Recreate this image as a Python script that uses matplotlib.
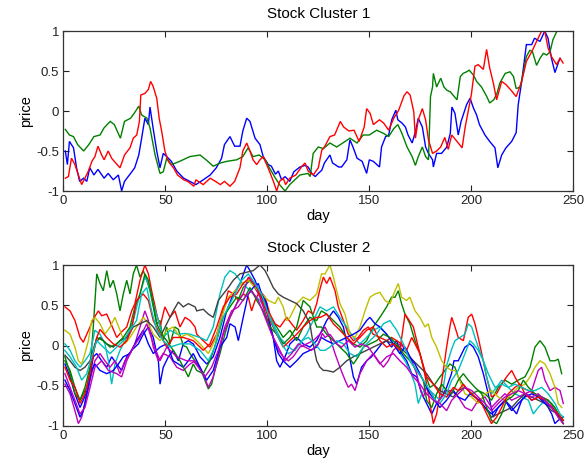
import matplotlib
matplotlib.use("Agg")
import matplotlib.pyplot as plt
import numpy as np

# ---------------- Cluster 1 data (day, price) ----------------
c1_blue = [(1,-0.5),(2,-0.67),(3,-0.38),(5,-0.46),(6.5,-0.71),(8,-0.88),(10,-0.84),(11.5,-0.88),(13,-0.71),(15,-0.8),
           (17,-0.73),(20,-0.84),(22,-0.78),(24.5,-0.86),(27,-0.8),(28.6,-1.0),(30,-0.88),(33,-0.78),(35,-0.71),(37,-0.55),
           (38.4,-0.34),(40,-0.09),(41.7,-0.17),(42.5,0.05),(44,-0.21),(45.8,-0.5),(47.4,-0.71),(49,-0.53),(50.7,-0.57),(53,-0.63),
           (55.6,-0.75),(59,-0.84),(62,-0.88),(65,-0.92),(68.6,-0.86),(72,-0.8),(75,-0.71),(77.6,-0.59),(79,-0.42),(81.7,-0.32),
           (84,-0.44),(86.6,-0.44),(88,-0.25),(89.9,-0.09),(91.5,-0.13),(94,-0.34),(96.4,-0.42),(98,-0.57),(100.5,-0.67),(102,-0.69),
           (104,-0.79),(105.4,-0.75),(107,-0.86),(108.7,-0.82),(111,-0.88),(113,-0.76),(116,-0.7),(118.5,-0.68),(120,-0.7),(121.8,-0.78),
           (123.5,-0.82),(125,-0.78),(126.7,-0.74),(128,-0.65),(130.7,-0.55),(132,-0.65),(135,-0.7),(136.4,-0.7),(139,-0.61),(140.5,-0.36),
           (142,-0.45),(144,-0.59),(146.5,-0.63),(148.7,-0.78),(150,-0.61),(152,-0.63),(155,-0.7),(156,-0.45),(158,-0.32),(159.5,-0.3),
           (161,-0.11),(163,0.01),(164,-0.11),(166,-0.15),(167.7,-0.2),(169,-0.3),(171,-0.4),(172.6,-0.26),(174,-0.09),(176,-0.2),
           (177.6,-0.45),(179,-0.53),(181,-0.61),(181.4,-0.7),(183,-0.53),(185.4,-0.53),(188,-0.45),(189.7,-0.28),(190.5,0.05),(192,-0.03),
           (193.6,-0.3),(195,-0.13),(197.7,0.08),(199.4,0.16),(201,0.04),(202.6,-0.05),(204,-0.17),(206.7,-0.3),(209,-0.38),(211.6,-0.46),
           (213,-0.71),(214.9,-0.55),(217,-0.46),(219.8,-0.38),(222,-0.27),(223,0.08),(224.7,0.37),(227,0.83),(229.6,0.83),(231,0.91),
           (233.7,0.87),(236,1.0),(237.6,0.91),(239.3,0.66),(241,0.48),(242.6,0.6),(243.5,0.66)]

c1_green = [(1,-0.23),(3,-0.3),(5,-0.32),(7,-0.42),(10,-0.5),(12.5,-0.42),(15,-0.32),(18,-0.3),(20,-0.21),(23,-0.13),
            (25,-0.17),(28,-0.34),(30,-0.13),(33,-0.09),(35,-0.02),(37,0.06),(38.4,-0.05),(41,-0.09),(42.5,-0.21),(45,-0.55),
            (47.4,-0.78),(49,-0.76),(50.7,-0.59),(53,-0.67),(57,-0.63),(62,-0.57),(67,-0.55),(70,-0.61),(73.5,-0.69),(77,-0.65),
            (80,-0.63),(85,-0.61),(88,-0.57),(90.6,-0.46),(93,-0.57),(96,-0.55),(99,-0.61),(101,-0.71),(104,-0.84),(106,-0.92),
            (108.7,-1.0),(111,-0.92),(116,-0.8),(120,-0.78),(121,-0.82),(122.5,-0.53),(125,-0.45),(127.5,-0.47),(130.7,-0.4),(134,-0.45),
            (137,-0.4),(140.5,-0.34),(144,-0.4),(147,-0.3),(150,-0.3),(153.6,-0.24),(157,-0.28),(159.5,-0.32),(162,-0.22),(164,-0.17),
            (166,-0.28),(168.5,-0.45),(171,-0.57),(172.6,-0.68),(174,-0.57),(176,-0.45),(177.6,-0.57),(179,-0.61),(180,0.18),(181,0.3),
            (181.4,0.47),(183,0.3),(185,0.41),(186.6,0.3),(188,0.26),(189.7,0.24),(191,0.2),(193,0.14),(194.6,0.43),(196,0.47),
            (197.7,0.49),(199,0.51),(201,0.45),(202.6,0.37),(205,0.3),(207.6,0.18),(209,0.1),(211,0.14),(212.6,0.22),(214,0.35),
            (216.6,0.47),(219,0.49),(220.7,0.43),(222,0.28),(224,0.3),(225.4,0.47),(227,0.68),(228.7,0.76),(230,0.74),(232,0.57),
            (233.7,0.66),(235.3,0.72),(237,0.7),(238.6,0.74),(240,0.89),(242,1.0),(243.6,1.0)]

c1_red = [(1,-0.84),(2.5,-0.82),(4,-0.59),(5.7,-0.67),(7.4,-0.8),(9,-0.92),(10.6,-0.84),(12.3,-0.75),(14,-0.63),(15.5,-0.57),
          (17,-0.44),(18.8,-0.55),(20,-0.61),(22,-0.5),(23.7,-0.59),(25,-0.63),(27.8,-0.71),(30,-0.55),(32.7,-0.46),(34.3,-0.34),
          (36,-0.3),(37.3,-0.13),(38,0.2),(40,0.22),(41.7,0.27),(42.8,0.37),(44,0.31),(45.8,0.16),(47,-0.09),(48.2,-0.25),
          (49.8,-0.5),(51.5,-0.63),(54,-0.71),(56,-0.8),(59,-0.86),(61,-0.88),(64,-0.94),(65,-0.86),(68.6,-0.92),(72,-0.84),
          (74.6,-0.88),(77,-0.92),(79,-0.88),(81.7,-0.94),(84,-0.88),(86.6,-0.71),(88,-0.5),(89.9,-0.4),(91.5,-0.5),(93,-0.61),
          (94.8,-0.67),(96.4,-0.61),(98,-0.57),(99.7,-0.67),(101,-0.75),(103,-0.88),(104.6,-1.0),(106,-0.88),(107.8,-0.84),(109,-0.92),
          (111,-0.84),(114,-0.8),(117,-0.69),(118.5,-0.65),(120,-0.75),(122.5,-0.8),(125,-0.71),(126.7,-0.49),(128,-0.45),(130.7,-0.32),
          (133,-0.3),(135.8,-0.13),(137.4,-0.2),(140,-0.25),(142.5,-0.24),(145,-0.38),(147.5,-0.2),(148.7,0.03),(150.4,-0.03),(152,-0.17),
          (155,-0.11),(157,-0.15),(159.5,-0.24),(162,-0.09),(164.4,0.01),(167,0.19),(168.5,0.24),(170,0.2),(171.8,-0.01),(172.6,-0.34),
          (174,-0.11),(176,0.03),(177.6,-0.11),(179,-0.36),(181,-0.53),(183,-0.5),(185,-0.45),(187,-0.33),(188.7,-0.48),(190.4,-0.3),
          (193,-0.38),(195.5,-0.46),(197,-0.2),(198.5,0.0),(200,0.2),(201.8,0.56),(203.4,0.58),(205.9,0.52),(207.5,0.77),(209,0.54),
          (210.8,0.35),(212.4,0.14),(214.9,0.37),(217,0.33),(219.8,0.25),(222,0.18),(224.7,0.37),(227,0.62),(229.6,0.74),(232,0.87),
          (234.5,1.0),(236,1.0),(237.6,0.79),(239.3,0.68),(241.8,0.58),(243.5,0.66),(245,0.6)]

# ---------------- Cluster 2 data (day, price) ----------------
c2_blue1 = [(0.8,-0.23),(3.3,-0.39),(5.7,-0.6),(8.2,-0.77),(9.8,-0.68),(12.3,-0.52),(14.7,-0.14),(16.4,-0.1),(18.8,-0.19),(21.3,-0.27),
            (23.7,-0.14),(26.2,-0.23),(28.6,-0.31),(31.1,-0.14),(33.5,-0.06),(36.8,0.02),(39.2,0.14),(41.7,0.23),(44.1,0.1),(46.6,-0.19),
            (47.4,-0.48),(49,-0.27),(51.5,-0.14),(53.9,-0.06),(56.4,-0.19),(58.8,0.02),(61.3,0.06),(63.7,0.02),(65.4,-0.06),(67,-0.14),
            (70.3,-0.23),(73.5,-0.14),(76.8,0.1),(80.1,0.43),(83.3,0.64),(86.6,0.77),(89.9,1.0),(91.5,0.93),(94,0.81),(96.4,0.64),
            (98.9,0.52),(100.5,0.35),(102.9,0.1),(104.6,-0.19),(106.2,-0.27),(108.7,-0.14),(111.1,0.02),(114.4,0.1),(117.6,0.02),(120.9,-0.02),
            (124.2,0.06),(127,0.2),(129.1,0.31),(132.4,0.43),(134.8,0.35),(137.3,0.23),(139.7,-0.06),(142.2,-0.39),(143.8,-0.48),(146.2,-0.27),
            (148.7,-0.19),(151.1,-0.14),(153.6,-0.06),(156,0.02),(158.5,0.06),(160.9,-0.02),(163.4,0.06),(165.8,-0.1),(168.3,-0.19),(170.8,-0.35),
            (173.2,-0.39),(175.7,-0.6),(178.1,-0.72),(180.6,-0.85),(183,-0.72),(185.5,-0.64),(187.9,-0.52),(190.3,-0.35),(191.5,-0.19),(193.6,-0.19),
            (196.9,-0.02),(199.3,0.02),(201,-0.02),(203.4,-0.14),(205.9,-0.35),(208.3,-0.6),(210.8,-0.89),(213.2,-0.77),(216.5,-0.68),(219.8,-0.77),
            (222.2,-0.85),(224.7,-0.68),(227.1,-0.6),(229.6,-0.68),(232.8,-0.64),(235.3,-0.68),(237.7,-0.77),(239.4,-0.85),(241,-0.97),(242.6,-0.93),
            (245.1,-0.89)]

c2_green1 = [(0.8,-0.19),(3.3,-0.31),(5.7,-0.52),(8.2,-0.68),(9.8,-0.6),(11.5,-0.52),(13.1,-0.31),(14.7,0.23),(16.4,0.89),(18,0.77),
             (19.6,0.68),(21.3,0.93),(22.9,0.72),(24.5,0.81),(26.2,0.64),(27.8,0.43),(29.4,0.64),(31.1,0.81),(32.7,0.64),(34.3,0.89),
             (35.9,1.0),(37.6,0.85),(39.2,0.93),(40.9,0.81),(42.5,0.68),(44.1,0.48),(45.8,0.27),(47.4,0.31),(49,0.06),(50.7,0.23),
             (52.3,0.02),(54.7,0.23),(56.4,0.2),(58.8,0.0),(60.5,-0.02),(62.1,-0.1),(64.5,-0.19),(67,-0.27),(69.4,-0.43),(71.1,-0.54),
             (72.7,-0.48),(74.3,-0.31),(76.8,-0.1),(79.2,0.14),(81.7,0.35),(85,0.52),(88.2,0.72),(91.5,0.81),(94.8,0.68),(98,0.6),
             (101.3,0.35),(104.6,0.23),(107.8,0.1),(111.1,0.19),(114.4,0.06),(117.6,0.23),(120.9,0.35),(124.2,0.31),(126.5,0.43),(129.1,0.39),
             (132.4,0.31),(135.6,0.23),(138.9,0.1),(142.2,0.02),(145.4,-0.02),(148.7,0.06),(151.9,0.23),(155.2,0.35),(158.5,0.48),(160.9,0.6),
             (162.6,0.6),(164.2,0.68),(165.8,0.52),(167.5,0.39),(169.9,0.27),(172.4,0.06),(174.8,-0.1),(177.3,-0.35),(179.7,-0.52),(182.2,-0.48),
             (184.6,-0.39),(187.1,-0.31),(189.5,-0.23),(192,-0.27),(193.6,-0.39),(196.9,-0.52),(200.2,-0.6),(203.4,-0.56),(206.7,-0.6),(209.9,-0.68),
             (213.2,-0.52),(216.5,-0.43),(219.8,-0.48),(223,-0.43),(226.3,-0.39),(228.8,-0.27),(231.2,-0.02),(233.7,0.06),(236.1,-0.02),(238.6,-0.19),
             (241,-0.19),(242.6,-0.17),(244.3,-0.35)]

c2_red1 = [(0.8,0.48),(3.3,0.43),(5.7,0.31),(8.2,0.1),(9.8,0.04),(11.5,0.14),(13.1,0.23),(14.7,0.33),(17.2,0.43),(18.8,0.37),
           (21.3,0.39),(23.7,0.25),(26.2,0.1),(28.6,0.17),(31.1,0.23),(33.5,0.43),(35.1,0.52),(37.6,0.81),(40,1.0),(41.7,0.89),
           (43.3,0.68),(45.8,0.39),(47.4,0.23),(49.8,0.48),(52.3,0.35),(54.7,0.43),(57.2,0.23),(59.7,0.35),(62.1,0.31),(64.6,0.23),
           (65.4,0.14),(68.6,0.06),(71.9,-0.02),(75.2,0.14),(78.4,0.43),(80.9,0.68),(83.3,0.64),(85.8,0.56),(88.2,0.64),(90.7,0.6),
           (92.3,0.43),(94,0.56),(96.4,0.68),(98.9,0.6),(101.3,0.39),(103.8,0.27),(106.2,0.23),(109.5,0.35),(111.9,0.27),(114.4,0.19),
           (117.6,0.31),(120.1,0.43),(122.5,0.39),(124.2,0.52),(125.8,0.7),(127.5,0.85),(129.1,0.77),(130.7,0.85),(133.2,0.68),(134.8,0.48),
           (137.3,0.31),(139.7,0.14),(142.2,0.06),(144.6,0.1),(147.1,0.19),(149.5,0.23),(151.9,0.14),(155.2,0.1),(158.5,0.06),(160.9,0.1),
           (163.4,0.06),(165.8,0.02),(168.3,-0.06),(170.8,0.1),(173.2,-0.02),(174.8,-0.1),(176.5,-0.27),(178.1,-0.48),(179.7,-0.72),(181.4,-0.97),
           (183,-0.85),(184.6,-0.6),(186.3,-0.31),(187.9,-0.02),(189.5,0.23),(190.4,0.35),(192,0.23),(193.6,0.1),(196.1,0.06),(198.5,0.35),
           (200.2,0.39),(201.8,0.27),(203.4,0.1),(205.1,-0.1),(207.5,-0.39),(209.9,-0.64),(212.4,-0.6),(214.9,-0.48),(217.3,-0.39),(219.8,-0.31),
           (222.2,-0.43),(224.7,-0.52),(228,-0.56),(231.2,-0.6),(234.5,-0.64),(237.7,-0.68),(240.2,-0.77),(242.6,-0.89),(245.1,-0.97)]

c2_cyan1 = [(0.8,0.02),(3.3,-0.06),(5.7,-0.19),(8.2,-0.27),(10.6,-0.19),(13.1,-0.1),(15.5,0.19),(18,0.14),(20.4,0.02),(22.1,-0.19),
            (23.7,-0.48),(25.3,-0.23),(27.8,-0.06),(31.1,0.1),(34.3,0.31),(37.6,0.64),(40,0.85),(41.7,0.77),(44.1,0.52),(46.6,0.31),
            (49,0.1),(52.3,0.19),(56,0.14),(60,0.15),(62.1,0.14),(67,0.1),(70.3,0.06),(73.5,0.23),(76.8,0.64),(79.2,0.85),
            (81.7,0.93),(84.2,0.89),(86.6,0.81),(89.9,0.72),(93.1,0.64),(96.4,0.56),(99.7,0.43),(102.9,0.27),(106.2,0.1),(109.5,0.0),
            (112.7,-0.06),(116,0.02),(119.3,0.14),(122.5,0.31),(125.8,0.48),(129.1,0.43),(132.4,0.48),(135.6,0.35),(138.9,0.23),(142.2,0.1),
            (145.4,0.02),(148.7,0.1),(151.9,0.19),(155.2,0.23),(158.5,0.14),(161.8,0.02),(165,-0.1),(167.5,-0.19),(169.9,-0.31),(172.4,-0.48),
            (174,-0.72),(175.7,-0.6),(178.1,-0.52),(181.4,-0.6),(184.6,-0.68),(186.3,-0.52),(187.9,-0.25),(190.3,-0.05),(192,0.06),(194.4,0.1),
            (196.9,0.14),(198.5,0.27),(200.2,0.23),(201.8,0.1),(203.4,-0.02),(205.9,-0.19),(207.5,-0.39),(209.9,-0.6),(212.4,-0.52),(214.9,-0.43),
            (218.1,-0.52),(221.4,-0.6),(224.7,-0.64),(228,-0.68),(230.4,-0.85),(232.8,-0.77),(236.1,-0.68),(239.4,-0.72),(242.6,-0.85),(245.1,-0.93)]

c2_magenta1 = [(0.8,-0.48),(3.3,-0.6),(5.7,-0.81),(7.4,-0.97),(9,-0.89),(10.6,-0.72),(13.1,-0.43),(15.5,-0.19),(18,-0.1),(20.4,-0.19),
               (22.9,-0.27),(25.3,-0.19),(27.8,-0.35),(30.2,-0.19),(32.7,-0.1),(35.1,0.02),(37.6,0.23),(40,0.43),(41.7,0.31),(44.1,-0.02),
               (46.6,-0.19),(49,-0.1),(52.3,-0.14),(55.6,-0.27),(58.8,-0.31),(62.1,-0.23),(64.6,-0.19),(65.4,-0.23),(68.6,-0.35),(71.1,-0.52),
               (73.5,-0.39),(76,-0.14),(78.4,0.14),(81.7,0.35),(85,0.52),(88.2,0.64),(90.7,0.85),(93.1,0.77),(96.4,0.6),(99.7,0.35),
               (102.9,0.1),(105.4,-0.06),(107.8,-0.14),(110.3,-0.19),(112.7,-0.14),(116,-0.02),(119.3,0.02),(122.5,0.06),(125.8,0.14),(128.3,0.23),
               (130.7,0.1),(133.2,-0.1),(135.6,-0.27),(138.1,-0.43),(139.7,-0.52),(141.3,-0.48),(143,-0.56),(145.4,-0.35),(148.7,-0.19),(151.9,-0.1),
               (154.4,-0.19),(156.9,-0.27),(159.3,-0.19),(161.8,-0.06),(165,0.02),(168.3,-0.06),(170.8,-0.19),(173.2,-0.35),(174.8,-0.52),(176.5,-0.64),
               (178.1,-0.52),(180.6,-0.6),(183,-0.72),(185.5,-0.64),(187.9,-0.56),(190.4,-0.56),(193.6,-0.64),(196.9,-0.77),(200.2,-0.81),(203.4,-0.68),
               (206.7,-0.64),(209.9,-0.77),(213.2,-0.68),(216.5,-0.6),(219.8,-0.68),(223,-0.64),(226.3,-0.6),(229.6,-0.56),(232.8,-0.31),(234.5,-0.27),
               (236.1,-0.43),(238.6,-0.56),(241,-0.52),(243.5,-0.56),(245.1,-0.72)]

c2_yellow = [(0.8,0.19),(3.3,0.14),(5.7,-0.02),(7.4,-0.19),(9,-0.23),(10.6,-0.1),(12.3,0.06),(13.9,0.31),(15.5,0.35),(18,0.27),
             (20.4,0.14),(22.9,0.23),(25.3,0.35),(27.8,0.19),(30.2,0.02),(32.7,0.1),(35.9,0.23),(39.2,0.35),(41.7,0.27),(44.1,0.14),
             (47.4,0.06),(50.7,0.19),(53.9,0.23),(57.2,0.1),(60.5,0.14),(63.7,0.1),(67,0.02),(71.1,-0.1),(74.3,0.06),(77.6,0.35),
             (80.9,0.6),(84.2,0.68),(87.4,0.77),(90.7,0.81),(94,0.72),(97.2,0.64),(100.5,0.56),(103.8,0.52),(105.4,0.6),(107.8,0.48),
             (109.5,0.31),(111.1,0.35),(114.4,0.52),(117.6,0.6),(120.9,0.56),(124.2,0.64),(126.6,0.89),(128.3,0.89),(130.7,1.0),(132.4,0.85),
             (134,0.68),(135.6,0.52),(138.1,0.39),(140.5,0.14),(143,0.1),(145.4,0.23),(147.9,0.43),(150.3,0.6),(152.8,0.64),(155.2,0.66),
             (157.7,0.56),(160.1,0.52),(162.6,0.68),(164.2,0.77),(165.8,0.6),(168.3,0.56),(169.9,0.6),(172.4,0.43),(174.8,0.35),(177.3,0.23),
             (178.9,0.27),(180.6,0.1),(183,-0.02),(185.5,-0.19),(187.9,-0.27),(190.3,-0.31),(192,-0.31),(193.6,-0.39),(196.9,-0.6),(200.2,-0.64),
             (203.4,-0.72),(206.7,-0.6),(209.9,-0.56),(213.2,-0.64),(216.5,-0.68),(219.8,-0.6),(223,-0.52),(226.3,-0.48),(228.8,-0.39),(231.2,-0.27),
             (233.7,-0.19),(236.1,-0.23),(238.6,-0.35),(241,-0.52),(242.6,-0.72),(244.3,-0.77)]

c2_black = [(0.8,-0.12),(3.3,-0.19),(5.7,-0.27),(8.2,-0.31),(10.6,-0.27),(13.1,-0.19),(15.5,0.02),(18,0.1),(21.3,0.02),(24.5,-0.02),
            (27.8,0.06),(31.1,0.1),(34.3,0.23),(37.6,0.27),(40.9,0.31),(44.1,0.23),(47.4,0.1),(50.7,0.27),(53.9,0.43),(56.4,0.54),
            (58.8,0.48),(61.3,0.52),(64.6,0.48),(65.4,0.43),(68.6,0.45),(71.1,0.39),(73.5,0.35),(76,0.56),(78.4,0.64),(80.9,0.72),
            (83.3,0.81),(86.6,0.89),(89.9,0.91),(93.1,0.93),(96.4,1.0),(98.9,0.93),(100.5,0.85),(102.9,0.72),(105.4,0.64),(107.8,0.6),
            (111.1,0.56),(114.4,0.52),(117.6,0.43),(120.9,0.27),(122.5,0.02),(124.2,-0.19),(125.8,-0.27),(127.5,-0.31),(129.1,-0.31),(132.4,-0.33),
            (135.6,-0.27),(138.9,-0.19),(142.2,-0.14),(145.4,-0.1),(148.7,-0.06),(151.9,-0.02),(155.2,0.02),(158.5,0.06),(161.8,0.02),(165,-0.02),
            (168.3,-0.1),(171.6,-0.19),(174.8,-0.27),(178.1,-0.35),(181.4,-0.48),(184.6,-0.56),(187.9,-0.6),(191.2,-0.64),(193.6,-0.56),(196.9,-0.52),
            (200.2,-0.6),(203.4,-0.68),(206.7,-0.77),(209.9,-0.89),(213.2,-0.85),(216.5,-0.81),(219.8,-0.77),(223,-0.68),(226.3,-0.6),(229.6,-0.64),
            (232.8,-0.68),(236.1,-0.72),(239.4,-0.81),(242.6,-0.85),(245.1,-0.93)]

c2_blue2 = [(0.8,-0.43),(3.3,-0.56),(5.7,-0.72),(8.2,-0.89),(9.8,-0.81),(11.5,-0.6),(13.9,-0.31),(15.5,-0.23),(18,-0.31),(21.3,-0.35),
            (24.5,-0.31),(27,-0.23),(29.4,-0.14),(32.7,-0.1),(35.9,0.06),(39.2,0.19),(41.7,0.02),(44.1,-0.1),(47.4,-0.02),(50.7,0.02),
            (53.9,-0.19),(56.4,-0.23),(58.8,-0.27),(61.3,-0.19),(63.7,-0.1),(67,-0.27),(70.3,-0.43),(73.5,-0.31),(76.8,-0.02),(80.1,0.1),
            (81.7,0.27),(84.2,0.23),(85.8,0.06),(88.2,0.35),(90.7,0.64),(93.1,0.72),(95.6,0.77),(97.2,0.64),(99.7,0.52),(101.3,0.23),
            (102.9,0.1),(105.4,-0.1),(107.8,-0.19),(111.1,-0.27),(114.4,-0.19),(117.6,-0.1),(120.9,-0.06),(124.2,-0.02),(126.5,0.1),(129.1,0.06),
            (132.4,0.02),(135.6,0.06),(138.9,0.1),(142.2,0.14),(145.4,0.19),(148.7,0.31),(150.3,0.35),(152.8,0.27),(155.2,0.23),(158.5,0.14),
            (161.8,0.02),(165,-0.1),(167.5,-0.02),(169.9,-0.14),(172.4,-0.23),(174.8,-0.35),(177.3,-0.48),(179.7,-0.6),(182.2,-0.68),(184.6,-0.77),
            (187.9,-0.68),(191.2,-0.56),(193.6,-0.64),(196.9,-0.68),(199.3,-0.6),(201.8,-0.64),(204.2,-0.68),(206.7,-0.77),(209.9,-0.85),(213.2,-0.77),
            (216.5,-0.68),(219.8,-0.81),(223,-0.72),(226.3,-0.64),(229.6,-0.6),(232.8,-0.64),(236.1,-0.72),(239.4,-0.77),(241.8,-0.85),(244.3,-0.93)]

c2_green2 = [(0.8,-0.14),(3.3,-0.35),(5.7,-0.6),(8.2,-0.68),(10.6,-0.52),(13.1,-0.27),(16.4,0.1),(19.6,0.06),(22.9,-0.02),(26.2,0.02),
             (29.4,0.1),(32.7,0.23),(35.1,0.48),(37.6,0.64),(40,0.89),(41.7,0.81),(44.1,0.52),(45.8,0.27),(48.2,0.14),(50.7,0.06),
             (53.9,-0.06),(57.2,-0.19),(59.7,-0.31),(61.3,-0.39),(63.7,-0.23),(65.4,-0.31),(68.6,-0.35),(71.9,-0.19),(75.2,0.06),(78.4,0.35),
             (81.7,0.48),(85,0.6),(88.2,0.56),(91.5,0.72),(94.8,0.56),(98,0.43),(101.3,0.23),(104.6,0.14),(107.8,0.02),(111.1,0.1),
             (114.4,0.23),(117.6,0.56),(120.9,0.48),(124.2,0.23),(126.5,0.23),(129.1,0.14),(132.4,0.06),(135.6,-0.02),(138.9,-0.1),(142.2,-0.23),
             (144.6,-0.14),(147.1,-0.02),(150.3,0.02),(153.6,0.06),(156.9,0.14),(160.1,0.1),(163.4,0.02),(166.7,-0.1),(169.9,-0.19),(173.2,-0.31),
             (176.5,-0.43),(178.1,-0.68),(180.6,-0.77),(183,-0.6),(185.5,-0.48),(187.9,-0.56),(190.4,-0.6),(193.6,-0.43),(196.1,-0.35),(198.5,-0.43),
             (201.8,-0.52),(205.1,-0.6),(207.5,-0.77),(209.9,-0.93),(212.4,-0.97),(214.9,-0.85),(217.3,-0.68),(219.8,-0.64),(223,-0.56),(225.5,-0.43),
             (228,-0.52),(231.2,-0.6),(234.5,-0.64),(237.7,-0.68),(241,-0.77),(243.5,-0.89),(245.1,-0.97)]

c2_red2 = [(0.8,-0.27),(3.3,-0.43),(5.7,-0.52),(8.2,-0.72),(10.6,-0.6),(13.1,-0.35),(14.7,-0.1),(16.4,0.1),(18,0.2),(21.3,0.1),
           (24.5,0.02),(27.8,-0.02),(31.1,0.06),(33.5,0.2),(35.9,0.56),(39.2,0.64),(41.7,0.56),(44.1,0.31),(47.4,0.14),(50.7,-0.02),
           (53.9,0.1),(58.8,0.1),(63.7,0.06),(65.4,0.02),(68.6,-0.06),(71.9,0.02),(75.2,0.23),(78.4,0.48),(81.7,0.6),(85,0.64),
           (88.2,0.77),(91.5,0.85),(94.8,0.72),(98,0.52),(101.3,0.31),(104.6,0.14),(107.8,-0.02),(111.1,0.06),(114.4,0.14),(117.6,0.23),
           (120.9,0.31),(124.2,0.35),(126,0.35),(129.1,0.39),(132.4,0.27),(135.6,0.19),(138.9,0.1),(142.2,0.02),(145.4,0.1),(148.7,0.19),
           (151.9,0.23),(155.2,0.06),(158.5,-0.02),(161.8,0.02),(165,-0.06),(167.5,0.39),(169.1,0.33),(171.6,0.23),(174.8,-0.1),(178.1,-0.39),
           (181.4,-0.48),(184.6,-0.6),(187.9,-0.64),(191.2,-0.52),(193.6,-0.56),(196.1,-0.48),(198.5,-0.56),(201.8,-0.64),(205.1,-0.72),(208.3,-0.89),
           (209.9,-0.97),(212.4,-0.89),(214.9,-0.77),(218.1,-0.6),(221.4,-0.52),(223.9,-0.48),(226.3,-0.6),(229.6,-0.68),(232.8,-0.64),(236.1,-0.68),
           (239.4,-0.77),(242.6,-0.85),(245.1,-0.93)]

c2_cyan2 = [(0.8,-0.06),(3.3,-0.14),(6.5,-0.27),(9,-0.43),(11.5,-0.35),(13.9,-0.14),(16.4,0.06),(19.6,-0.02),(22.9,-0.1),(26.2,-0.02),
            (29.4,0.06),(32.7,0.19),(35.9,0.31),(38.4,0.64),(40.9,0.72),(43.3,0.43),(45.8,0.19),(49,0.06),(52.3,-0.02),(57.2,0.02),
            (62.1,0.02),(67,-0.06),(71.1,-0.19),(74.3,-0.02),(77.6,0.31),(80.9,0.48),(84.2,0.64),(87.4,0.81),(90.7,0.89),(94,0.77),
            (97.2,0.64),(100.5,0.39),(103.8,0.19),(107,0.02),(110.3,-0.1),(113.6,-0.06),(116.8,0.06),(120.1,0.1),(123.4,0.02),(126,-0.06),
            (128.3,-0.06),(130.7,-0.02),(134,0.06),(137.3,0.02),(140.5,-0.1),(143.8,-0.14),(147.1,-0.02),(150.3,0.06),(153.6,0.14),(156.9,0.27),
            (160.1,0.31),(163.4,0.19),(166.7,0.02),(169.9,-0.19),(173.2,-0.31),(176.5,-0.43),(179.7,-0.56),(182.2,-0.68),(184.6,-0.72),(187.9,-0.6),
            (190.4,-0.43),(193.6,-0.31),(196.9,-0.1),(199.3,0.06),(201,0.02),(203.4,-0.06),(205.9,-0.19),(208.3,-0.35),(211.6,-0.52),(214.9,-0.48),
            (218.1,-0.52),(221.4,-0.48),(224.7,-0.52),(228,-0.56),(231.2,-0.56),(234.5,-0.52),(237.7,-0.6),(241,-0.72),(243.5,-0.85),(245.1,-0.89)]

c2_magenta2 = [(0.8,-0.35),(3.3,-0.52),(5.7,-0.68),(8.2,-0.85),(10.6,-0.77),(13.1,-0.52),(15.5,-0.27),(18.8,-0.19),(22.1,-0.31),(26.2,-0.35),
               (28.6,-0.39),(31.1,-0.19),(34.3,-0.02),(37.6,0.1),(40.9,0.27),(44.1,0.02),(47.4,-0.19),(50.7,-0.02),(55.6,-0.14),(60.5,-0.19),
               (63.7,-0.19),(66.2,-0.27),(69.4,-0.39),(72.7,-0.27),(76,-0.06),(79.2,0.23),(82.5,0.43),(85.8,0.48),(89.1,0.6),(92.3,0.68),
               (95.6,0.56),(98.9,0.35),(102.1,0.14),(105.4,-0.02),(108.7,-0.19),(111.9,-0.1),(115.2,0.02),(118.5,-0.02),(121.7,-0.06),(125,0.02),
               (127,0.15),(128.3,0.1),(130.7,0.14),(134,0.02),(136.4,-0.02),(139.7,0.06),(143,-0.02),(146.2,0.02),(149.5,-0.02),(152.8,-0.14),
               (155.2,-0.23),(158.5,-0.14),(161.8,-0.1),(165,-0.19),(168.3,-0.27),(171.6,-0.39),(174.8,-0.48),(178.1,-0.6),(181.4,-0.68),(184.6,-0.72),
               (187.9,-0.81),(190.4,-0.68),(193.6,-0.6),(196.9,-0.52),(200.2,-0.56),(203.4,-0.64),(206.7,-0.72),(209.9,-0.81),(213.2,-0.72),(216.5,-0.64),
               (219.8,-0.6),(223,-0.56),(226.3,-0.6),(229.6,-0.64),(232.8,-0.6),(236.1,-0.68),(239.4,-0.77),(242.6,-0.89),(245.1,-0.97)]

# MATLAB-style colour order
col_b = "#0000ff"
col_g = "#008000"
col_r = "#ff0000"
col_c = "#00bfbf"
col_m = "#bf00bf"
col_y = "#bfbf00"
col_k = "#404040"

cluster1 = [(c1_blue, col_b), (c1_green, col_g), (c1_red, col_r)]
cluster2 = [(c2_blue1, col_b), (c2_green1, col_g), (c2_red1, col_r), (c2_cyan1, col_c),
            (c2_magenta1, col_m), (c2_yellow, col_y), (c2_black, col_k), (c2_blue2, col_b),
            (c2_green2, col_g), (c2_red2, col_r), (c2_cyan2, col_c), (c2_magenta2, col_m)]

titles = ["Stock Cluster 1", "Stock Cluster 2"]
xticks = [0, 50, 100, 150, 200, 250]
yticks = [-1, -0.5, 0, 0.5, 1]
ytick_labels = ["-1", "-0.5", "0", "0.5", "1"]

plt.rcParams["font.family"] = ["Liberation Sans", "DejaVu Sans"]

W, H = 587, 470
fig = plt.figure(figsize=(W / 100, H / 100), dpi=100)
fig.patch.set_facecolor("white")

left = 63.3 / W
width = (573.3 - 63.3) / W
axes_rect = [
    [left, (H - 191) / H, width, (191 - 31) / H],
    [left, (H - 426) / H, width, (426 - 265) / H],
]

for rect, series, title in zip(axes_rect, [cluster1, cluster2], titles):
    ax = fig.add_axes(rect)
    for data, col in series:
        arr = np.array(data)
        ax.plot(arr[:, 0], arr[:, 1], color=col, lw=1.0, solid_joinstyle="miter")
    ax.set_xlim(0, 250)
    ax.set_ylim(-1, 1)
    ax.set_xticks(xticks)
    ax.set_yticks(yticks)
    ax.set_yticklabels(ytick_labels)
    ax.tick_params(direction="in", top=True, right=True, length=4, width=0.8,
                   labelsize=9.5, colors="#222222", pad=3)
    for sp in ax.spines.values():
        sp.set_linewidth(0.9)
        sp.set_color("#333333")
    ax.set_title(title, fontsize=11, pad=9)
    ax.set_xlabel("day", fontsize=10.5, labelpad=1)
    ax.set_ylabel("price", fontsize=10.5, labelpad=2)

fig.savefig("out.png", dpi=100)
